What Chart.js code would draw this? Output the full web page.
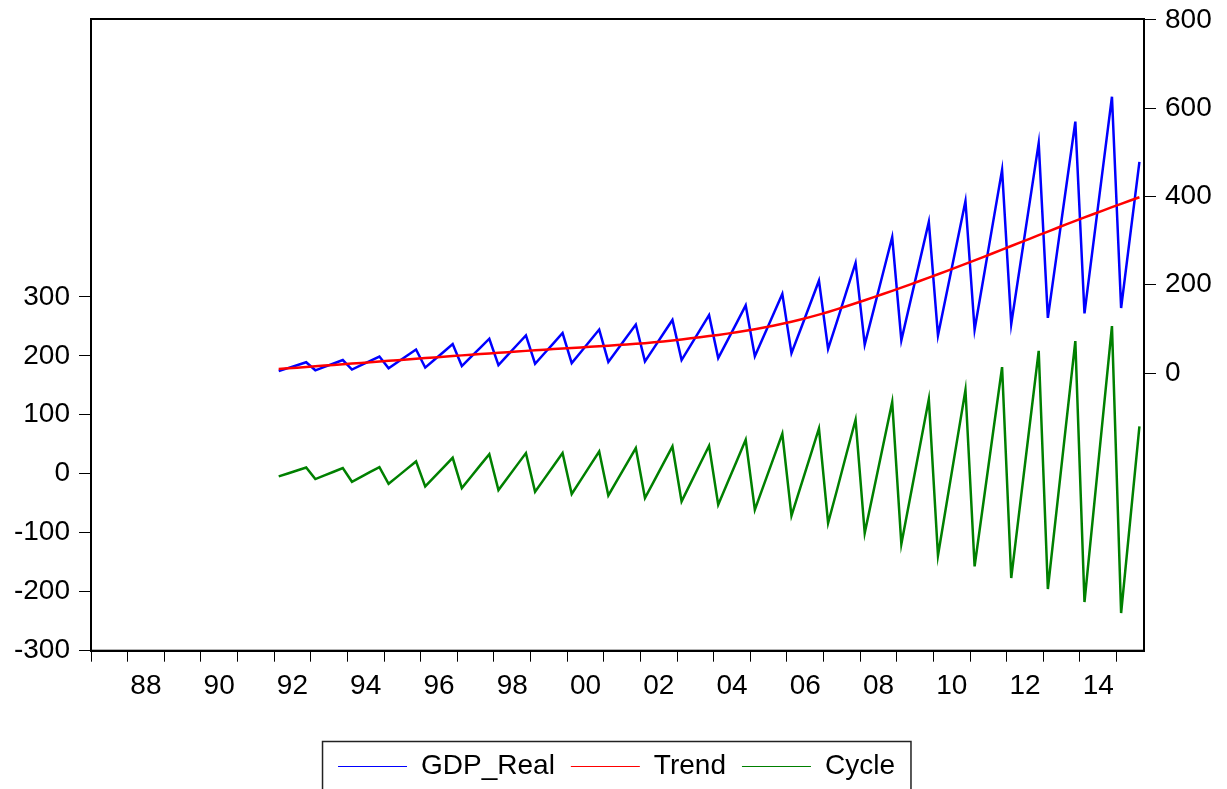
<!DOCTYPE html>
<html>
<head>
<meta charset="utf-8">
<script src="https://cdn.jsdelivr.net/npm/chart.js@4.4.1/dist/chart.umd.min.js"></script>
<style>
  html, body { margin: 0; padding: 0; background: #fff; }
  #chart { display: block; }
</style>
</head>
<body>
<canvas id="chart" width="1227" height="789"></canvas>
<script>
// Quarterly sample 1992Q1 - 2015Q3 (workfile range 1987Q1 - 2015Q3)
const firstYear = 1992;
const rangeStart = 1987;
const rangeEnd = 2015.75;

const gdpReal = [
    4.5, 11.1, 17.7, 24.4,      // 1992
    6.2, 14.0, 21.7, 29.5,      // 1993
    7.8, 17.7, 27.6, 37.4,      // 1994
    10.6, 24.8, 39.0, 53.2,     // 1995
    12.3, 30.1, 47.8, 65.6,     // 1996
    15.7, 36.4, 57.1, 77.7,     // 1997
    18.1, 40.4, 62.9, 85.2,     // 1998
    21.1, 44.2, 67.2, 90.6,     // 1999
    22.4, 47.8, 73.3, 98.5,     // 2000
    25.2, 53.4, 81.6, 109.8,    // 2001
    26.5, 57.6, 88.9, 120.2,    // 2002
    29.3, 63.1, 97.1, 131.2,    // 2003
    33.9, 73.5, 113.2, 153.3,   // 2004
    38.2, 84.9, 131.9, 179.3,   // 2005
    45.0, 99.3, 154.0, 209.2,   // 2006
    54.8, 118.8, 184.6, 249.5,  // 2007
    64.4, 145.4, 226.5, 307.7,  // 2008
    74.3, 163.5, 253.0, 342.6,  // 2009
    85.2, 186.5, 287.9, 389.2,  // 2010
    98.2, 218.8, 339.6, 460.3,  // 2011
    110.9, 247.5, 384.2, 520.8, // 2012
    125.1, 273.3, 421.4, 569.5, // 2013
    135.0, 298.7, 462.4, 626.0, // 2014
    147.2, 312.8, 478.4         // 2015
];

const trend = [
    9.0, 10.6, 12.1, 13.7,
    15.2, 16.8, 18.3, 19.9,
    21.4, 23.0, 24.5, 26.1,
    27.6, 29.2, 30.7, 32.3,
    33.8, 35.4, 36.9, 38.5,
    40.0, 41.5, 42.9, 44.4,
    45.8, 47.3, 48.7, 50.2,
    51.6, 52.9, 54.2, 55.5,
    56.8, 58.1, 59.4, 60.7,
    62.0, 63.4, 64.8, 66.2,
    67.7, 69.6, 71.7, 73.9,
    76.2, 78.6, 81.1, 83.7,
    86.4, 89.3, 92.4, 95.7,
    99.2, 103.0, 107.1, 111.5,
    116.2, 121.3, 126.7, 132.4,
    138.4, 144.7, 151.2, 158.0,
    164.9, 171.9, 179.0, 186.2,
    193.5, 200.9, 208.4, 216.0,
    223.7, 231.5, 239.4, 247.3,
    255.3, 263.3, 271.4, 279.5,
    287.7, 295.9, 304.1, 312.3,
    320.5, 328.6, 336.6, 344.6,
    352.5, 360.3, 368.0, 375.7,
    383.3, 390.8, 398.2
];

const cycle = [
    -4.5, 0.5, 5.6, 10.7,
    -9.0, -2.8, 3.4, 9.6,
    -13.6, -5.3, 3.1, 11.3,
    -17.0, -4.4, 8.3, 20.9,
    -21.5, -5.3, 10.9, 27.1,
    -24.3, -5.1, 14.2, 33.3,
    -27.7, -6.9, 14.2, 35.0,
    -30.5, -8.7, 13.0, 35.1,
    -34.4, -10.3, 13.9, 37.8,
    -36.8, -10.0, 16.8, 43.6,
    -41.2, -12.0, 17.2, 46.3,
    -46.9, -15.5, 16.0, 47.5,
    -52.5, -15.8, 20.8, 57.6,
    -61.0, -18.1, 24.8, 67.8,
    -71.2, -22.0, 27.3, 76.8,
    -83.6, -25.9, 33.4, 91.5,
    -100.5, -26.5, 47.5, 121.5,
    -119.2, -37.4, 44.6, 126.6,
    -138.5, -45.0, 48.5, 141.9,
    -157.1, -44.5, 68.2, 180.8,
    -176.8, -48.4, 80.1, 208.5,
    -195.4, -55.3, 84.8, 224.9,
    -217.5, -61.6, 94.4, 250.3,
    -236.1, -78.0, 80.2
];

const leftTicks = [-300, -200, -100, 0, 100, 200, 300];
const rightTicks = [0, 200, 400, 600, 800];
const labelYears = [1988, 1990, 1992, 1994, 1996, 1998, 2000, 2002, 2004, 2006, 2008, 2010, 2012, 2014];

// observation sits in the middle of its quarter
function toPoints(values) {
    return values.map((v, i) => ({ x: firstYear + i / 4 + 0.125, y: v }));
}

// keep the plot frame where the layout padding puts it
function fixYAxis(width) {
    return scale => {
        scale.width = width;
        scale.paddingTop = 0;
        scale.paddingBottom = 0;
    };
}

const frameAndLegendBox = {
    id: 'frameAndLegendBox',
    afterDatasetsDraw(chart) {
        const a = chart.chartArea;
        const ctx = chart.ctx;
        ctx.save();
        ctx.strokeStyle = '#000';
        ctx.lineWidth = 2;
        ctx.strokeRect(a.left, a.top, a.right - a.left, a.bottom - a.top);
        ctx.restore();
    },
    afterDraw(chart) {
        const boxes = chart.legend.legendHitBoxes;
        if (!boxes || !boxes.length) return;
        const first = boxes[0];
        const last = boxes[boxes.length - 1];
        const ctx = chart.ctx;
        const midY = first.top + first.height / 2;
        ctx.save();
        ctx.strokeStyle = '#222';
        ctx.lineWidth = 1.5;
        ctx.strokeRect(first.left - 15.5, midY - 25, (last.left + last.width + 16) - (first.left - 15.5), 60);
        ctx.restore();
    }
};

Chart.defaults.font.family = '"Liberation Sans", Arial, sans-serif';
Chart.defaults.font.size = 28;
Chart.defaults.color = '#000';

new Chart(document.getElementById('chart'), {
    type: 'line',
    data: {
        datasets: [
            { label: 'GDP_Real', data: toPoints(gdpReal), yAxisID: 'yR', borderColor: '#0000ff', order: 2 },
            { label: 'Trend', data: toPoints(trend), yAxisID: 'yR', borderColor: '#ff0000', order: 0 },
            { label: 'Cycle', data: toPoints(cycle), yAxisID: 'yL', borderColor: '#008000', order: 1 }
        ]
    },
    options: {
        responsive: false,
        animation: false,
        layout: { padding: { top: 19, left: 6, right: 0, bottom: -1.5 } },
        elements: {
            line: { borderWidth: 2.5, tension: 0, fill: false },
            point: { radius: 0 }
        },
        plugins: {
            tooltip: { enabled: false },
            legend: {
                position: 'bottom',
                labels: {
                    usePointStyle: true,
                    pointStyle: 'line',
                    pointStyleWidth: 69,
                    boxWidth: 69,
                    padding: 16,
                    color: '#000',
                    font: { size: 28 },
                    sort: (a, b) => a.datasetIndex - b.datasetIndex
                }
            }
        },
        scales: {
            x: {
                type: 'linear',
                position: 'bottom',
                min: rangeStart,
                max: rangeEnd,
                afterBuildTicks: scale => {
                    const t = [];
                    for (let y = rangeStart; y <= Math.floor(rangeEnd); y++) t.push({ value: y });
                    labelYears.forEach(y => t.push({ value: y + 0.5 }));
                    t.sort((a, b) => a.value - b.value);
                    scale.ticks = t;
                },
                afterFit: scale => { scale.height = 85.8; },
                ticks: {
                    autoSkip: false,
                    maxRotation: 0,
                    padding: 8,
                    callback: v => (v % 1 === 0.5) ? String(Math.floor(v) % 100).padStart(2, '0') : ''
                },
                grid: {
                    drawOnChartArea: false,
                    tickLength: 11,
                    tickColor: c => (c.tick && c.tick.value % 1 === 0) ? '#000' : 'rgba(0,0,0,0)'
                },
                border: { color: '#000', width: 2 }
            },
            yL: {
                type: 'linear',
                position: 'left',
                min: -300,
                max: 771,
                afterBuildTicks: scale => { scale.ticks = leftTicks.map(v => ({ value: v })); },
                afterFit: fixYAxis(85),
                ticks: { autoSkip: false, padding: 9 },
                grid: { drawOnChartArea: false, tickLength: 12, tickColor: '#000' },
                border: { color: '#000', width: 2 }
            },
            yR: {
                type: 'linear',
                position: 'right',
                min: -629,
                max: 802,
                afterBuildTicks: scale => { scale.ticks = rightTicks.map(v => ({ value: v })); },
                afterFit: fixYAxis(83),
                ticks: { autoSkip: false, padding: 9 },
                grid: { drawOnChartArea: false, tickLength: 12, tickColor: '#000' },
                border: { color: '#000', width: 2 }
            }
        }
    },
    plugins: [frameAndLegendBox]
});
</script>
</body>
</html>
